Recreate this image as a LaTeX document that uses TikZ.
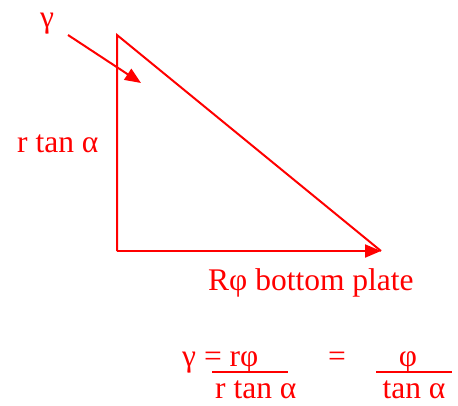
\documentclass[tikz,border=0pt]{standalone}
\usepackage{fontspec}
\newfontfamily\tms{Liberation Serif}
\usetikzlibrary{arrows.meta}
\begin{document}
\begin{tikzpicture}[x=1pt,y=-1pt,
  ln/.style={draw=red,line width=2pt},
  arr/.style={ln,-{Triangle[length=16pt,width=13pt]}},
  lbl/.style={text=red,inner sep=0pt,font=\tms\fontsize{31.5}{36}\selectfont}]
\useasboundingbox (0,0) rectangle (458,405);
\coordinate (top) at (117,35);
\coordinate (bl) at (117,251);
\coordinate (br) at (381,251);
\coordinate (as) at (68,35);
\coordinate (ae) at (141,83);
\draw[ln] (bl) -- (top) -- (br);
\draw[arr] (bl) -- (br);
\draw[arr] (as) -- (ae);
\node[lbl,anchor=base] (g) at (47,27) {γ};
\node[lbl,anchor=base west] (rt) at (17,152) {r tan α};
\node[lbl,anchor=base west] (rp) at (208,290) {Rφ bottom plate};
\node[lbl,anchor=base west] (eq1) at (182,366) {γ = rφ};
\node[lbl,anchor=base west] (d1) at (215,398) {r tan α};
\node[lbl,anchor=base] (eq2) at (337,366) {=};
\node[lbl,anchor=base] (n2) at (408,366) {φ};
\node[lbl,anchor=base] (d2) at (414,398) {tan α};
\coordinate (f1a) at (212,372);
\coordinate (f1b) at (288,372);
\coordinate (f2a) at (376,372);
\coordinate (f2b) at (452,372);
\draw[ln] (f1a) -- (f1b);
\draw[ln] (f2a) -- (f2b);
\end{tikzpicture}
\end{document}
